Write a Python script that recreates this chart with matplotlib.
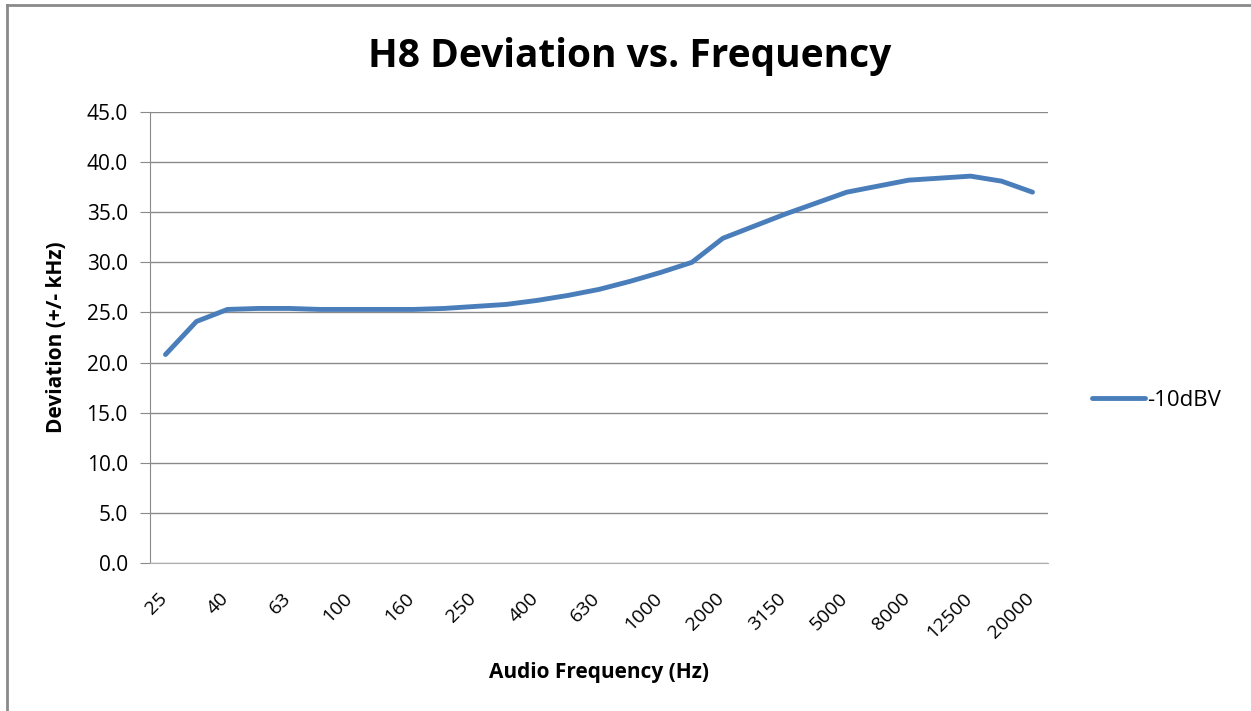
import matplotlib.pyplot as plt
from matplotlib.lines import Line2D
from matplotlib.transforms import ScaledTranslation

# third-octave-ish categories (every other label is shown on the axis)
freqs = ['25', '31.5', '40', '50', '63', '80', '100', '125', '160', '200',
         '250', '315', '400', '500', '630', '800', '1000', '1500', '2000',
         '2500', '3150', '4000', '5000', '6300', '8000', '10000', '12500',
         '16000', '20000']
dev_10dbv = [20.8, 24.1, 25.3, 25.4, 25.4, 25.3, 25.3, 25.3, 25.3, 25.4,
             25.6, 25.8, 26.2, 26.7, 27.3, 28.1, 29.0, 30.0, 32.4, 33.6,
             34.8, 35.9, 37.0, 37.6, 38.2, 38.4, 38.6, 38.1, 37.0]
yticks = [0, 5, 10, 15, 20, 25, 30, 35, 40, 45]

plt.rcParams['font.family'] = ['Open Sans', 'DejaVu Sans']

W, H = 1251, 711
fig = plt.figure(figsize=(W / 100, H / 100), dpi=100)
ax = fig.add_axes([150 / W, 1 - 563 / H, (1048 - 150) / W, (563 - 112) / H])

x = list(range(len(freqs)))
ax.plot(x, dev_10dbv, color='#4a7ebb', lw=3.5, solid_capstyle='round',
        solid_joinstyle='round', label='-10dBV')

ax.set_xlim(-0.5, len(freqs) - 0.5)
ax.set_ylim(0, 45)
ax.set_yticks(yticks)
ax.set_yticklabels(['%.1f' % v for v in yticks], fontsize=15)
ax.yaxis.grid(True, color='#8a8a8a', lw=1)
ax.set_axisbelow(True)
ax.set_xticks(x[::2])
ax.set_xticklabels(freqs[::2], rotation=45, ha='right', va='top',
                   rotation_mode='anchor', fontsize=14)
ax.tick_params(axis='x', length=0, pad=19)
ax.tick_params(axis='y', length=7, color='#8a8a8a', pad=9)
# nudge rotated labels left so they sit under their category
shift = ScaledTranslation(-0.08, 0, fig.dpi_scale_trans)
for lbl in ax.get_xticklabels():
    lbl.set_transform(lbl.get_transform() + shift)

for s in ['top', 'right']:
    ax.spines[s].set_visible(False)
ax.spines['left'].set_color('#8a8a8a')
ax.spines['bottom'].set_color('#b0b0b0')
ax.spines['bottom'].set_linewidth(0.8)

ax.set_xlabel('Audio Frequency (Hz)', fontsize=15, fontweight='bold')
ax.set_ylabel('Deviation (+/- kHz)', fontsize=15, fontweight='bold')
ax.xaxis.set_label_coords(0.5, -0.22)
ax.yaxis.set_label_coords(-0.092, 0.5)
fig.text(630 / W, 1 - 57 / H, 'H8 Deviation vs. Frequency', fontsize=28,
         fontweight='bold', ha='center', va='center')

leg = fig.legend(handles=[Line2D([], [], color='#4a7ebb', lw=3.5,
                                 solid_capstyle='round', label='-10dBV')],
                 loc='center left', bbox_to_anchor=(1083 / W, 1 - 400 / H),
                 frameon=False, fontsize=16, handlelength=2.4,
                 handletextpad=0.1, borderaxespad=0)

# chart frame (top and left edges visible)
fig.add_artist(Line2D([7 / W, 7 / W], [0, 1 - 5 / H], color='#8a8a8a', lw=2,
                      transform=fig.transFigure))
fig.add_artist(Line2D([7 / W, 1], [1 - 5 / H, 1 - 5 / H], color='#8a8a8a', lw=2,
                      transform=fig.transFigure))

fig.savefig('out.png', dpi=100)
